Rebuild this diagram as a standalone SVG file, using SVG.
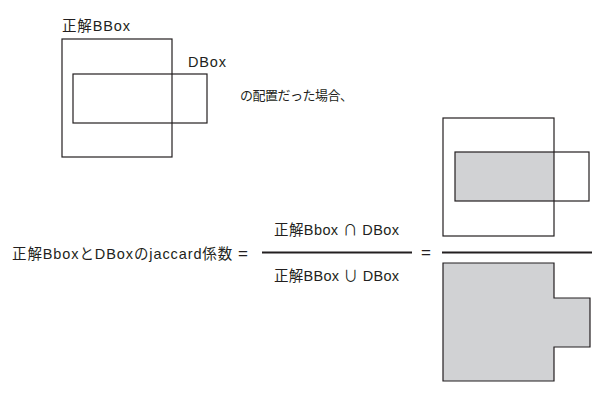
<svg xmlns="http://www.w3.org/2000/svg" width="604" height="407" viewBox="0 0 604 407">
<style>
text{font-family:"Liberation Sans","Noto Sans CJK JP",sans-serif;font-size:14.5px;fill:#231f20}
.s{font-family:"Noto Sans CJK JP",sans-serif}
.e{font-size:17px}
.c{font-size:13px}
.b{fill:none;stroke:#231f20;stroke-width:1.2}
.g{fill:#d1d2d4;stroke:none}
.u{fill:#d1d2d4;stroke:#231f20;stroke-width:1.2}
.l{stroke:#231f20;stroke-width:2}
</style>
<rect width="604" height="407" fill="#fff"/>
<g id="gt-box">
<rect class="b" x="62" y="39" width="110" height="118"/>
<text x="62" y="31" textLength="68" lengthAdjust="spacing">正解BBox</text>
</g>
<g id="d-box">
<rect class="b" x="73" y="74" width="134" height="49"/>
<text x="188" y="67" textLength="38" lengthAdjust="spacing">DBox</text>
</g>
<g id="caption">
<text class="c" x="240" y="100" textLength="113" lengthAdjust="spacing">の配置だった場合、</text>
</g>
<g id="formula">
<text x="12" y="259" textLength="236" lengthAdjust="spacing">正解BboxとDBoxのjaccard係数 <tspan class="e">=</tspan></text>
<text x="274" y="235" textLength="125" lengthAdjust="spacing">正解Bbox <tspan class="s">∩</tspan> DBox</text>
<line class="l" x1="262" y1="252.5" x2="412" y2="252.5"/>
<text x="274" y="281" textLength="125" lengthAdjust="spacing">正解BBox <tspan class="s">∪</tspan> DBox</text>
<text class="e" x="421" y="258">=</text>
</g>
<g id="intersection">
<rect class="g" x="455" y="152" width="99" height="49"/>
<rect class="b" x="443" y="118" width="111" height="118"/>
<rect class="b" x="455" y="152" width="134" height="49"/>
</g>
<g id="divider">
<line class="l" x1="442" y1="252.5" x2="592" y2="252.5"/>
</g>
<g id="union">
<path class="u" d="M443,263 H554 V298 H590 V347 H554 V381 H443 Z"/>
</g>
</svg>
